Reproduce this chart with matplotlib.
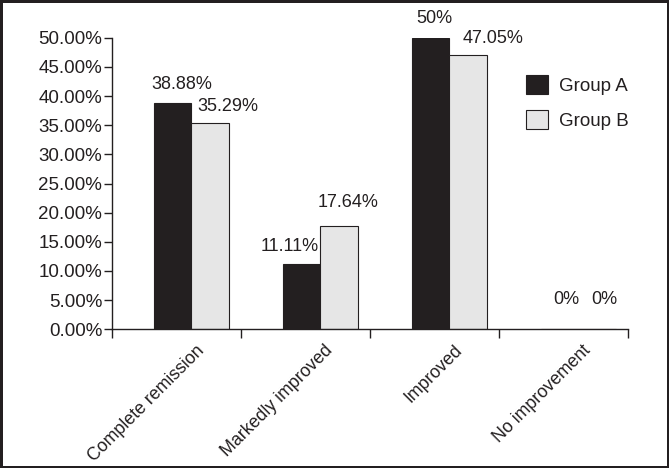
import matplotlib
matplotlib.use("Agg")
from matplotlib import pyplot as plt
import numpy as np

plt.rcParams['font.family'] = ['Liberation Sans', 'DejaVu Sans']

categories = ["Complete remission", "Markedly improved", "Improved", "No improvement"]
group_a = [38.88, 11.11, 50.0, 0.0]
group_b = [35.29, 17.64, 47.05, 0.0]
labels_a = ["38.88%", "11.11%", "50%", "0%"]
labels_b = ["35.29%", "17.64%", "47.05%", "0%"]

# where the data labels sit, in pixels from the top centre of each bar
offs_a = [(9, 18), (-12, 18), (4, 19), (7, 30)]
offs_b = [(18, 17), (9, 24), (25, 16), (7, 30)]

txt = "#231f20"
fig = plt.figure(figsize=(6.69, 4.68), dpi=100)
fig.patch.set_edgecolor("#231f20")
fig.patch.set_linewidth(2.5)
ax = fig.add_axes([0.1674, 0.2964, 0.7713, 0.623])

x = np.arange(len(categories))
w = 0.29
shift = 0.116
bars_a = ax.bar(x + shift - w / 2, group_a, w, color="#231f20", edgecolor="#231f20",
                linewidth=0.8, label="Group A")
bars_b = ax.bar(x + shift + w / 2, group_b, w, color="#e6e6e6", edgecolor="#231f20",
                linewidth=0.8, label="Group B")

for bars, labs, offs in [(bars_a, labels_a, offs_a), (bars_b, labels_b, offs_b)]:
    for b, lab, (dx, dy) in zip(bars, labs, offs):
        ax.annotate(lab, (b.get_x() + b.get_width() / 2, b.get_height()),
                    xytext=(dx, dy), textcoords="offset pixels",
                    ha="center", va="center", fontsize=13, color=txt)

ax.set_xlim(-0.5, len(categories) - 0.5)
ax.set_ylim(0, 50)
ax.set_yticks(np.arange(0, 50.1, 5))
ax.set_yticklabels(["{:.2f}%".format(v) for v in np.arange(0, 50.1, 5)])
ax.tick_params(axis="y", length=6, width=1, pad=1, labelsize=13.5, colors=txt)

ax.set_xticks(np.arange(-0.5, len(categories), 1), minor=True)
ax.set_xticks(x)
ax.set_xticklabels(categories, rotation=45, ha="right", va="top", rotation_mode="anchor")
ax.tick_params(axis="x", which="major", length=0, pad=9, labelsize=12.8, colors=txt)
ax.tick_params(axis="x", which="minor", length=6.5, width=1, color=txt)
for lab in ax.get_xticklabels():
    lab.set_transform(lab.get_transform() + matplotlib.transforms.ScaledTranslation(0.19, 0, fig.dpi_scale_trans))

for s in ["top", "right"]:
    ax.spines[s].set_visible(False)
for s in ["left", "bottom"]:
    ax.spines[s].set_color(txt)
    ax.spines[s].set_linewidth(1)

leg = ax.legend(loc="upper left", bbox_to_anchor=(0.787, 0.897), frameon=False,
                fontsize=13.5, handlelength=1.2, handleheight=1.2, handletextpad=0.6,
                labelspacing=0.8, borderaxespad=0)
for t in leg.get_texts():
    t.set_color(txt)

plt.savefig("out.png", dpi=100)
